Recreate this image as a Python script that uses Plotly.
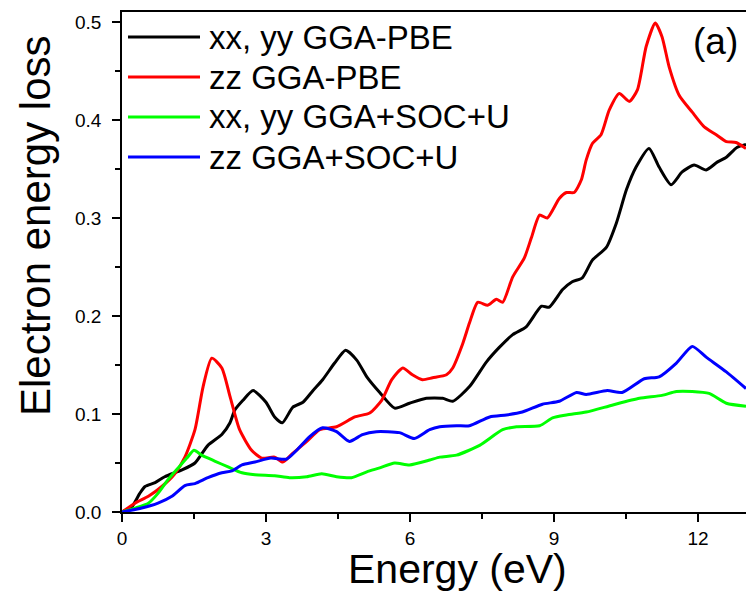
import plotly.graph_objects as go

# ---------------- data ----------------
black_x = [0, 0.2, 0.37, 0.48, 0.69, 0.89, 1.25, 1.52, 1.79, 2.08, 2.25, 2.35, 2.52, 2.73,
           3.0, 3.18, 3.34, 3.56, 3.77, 3.98, 4.18, 4.43, 4.66, 4.89, 5.10, 5.37, 5.68,
           5.99, 6.34, 6.68, 6.89, 7.24, 7.59, 7.86, 8.14, 8.42, 8.74, 8.90, 9.18, 9.38,
           9.59, 9.80, 10.09, 10.30, 10.51, 10.71, 10.98, 11.19, 11.44, 11.67, 11.92,
           12.17, 12.40, 12.59, 12.81, 13.0]
black_y = [0, 0.005, 0.019, 0.026, 0.030, 0.036, 0.043, 0.050, 0.068, 0.079, 0.091, 0.104,
           0.114, 0.124, 0.112, 0.097, 0.091, 0.107, 0.112, 0.124, 0.135, 0.152, 0.165,
           0.155, 0.138, 0.122, 0.106, 0.111, 0.116, 0.116, 0.113, 0.128, 0.153, 0.168,
           0.181, 0.189, 0.210, 0.209, 0.227, 0.235, 0.239, 0.257, 0.270, 0.295, 0.329,
           0.352, 0.371, 0.352, 0.334, 0.347, 0.354, 0.349, 0.357, 0.362, 0.372, 0.375]

red_x = [0, 0.27, 0.55, 0.83, 1.10, 1.31, 1.52, 1.69, 1.87, 2.08, 2.25, 2.45, 2.70, 2.91,
         3.18, 3.35, 3.56, 3.85, 4.12, 4.47, 4.85, 5.16, 5.41, 5.62, 5.85, 6.05, 6.26,
         6.47, 6.76, 6.89, 7.10, 7.24, 7.41, 7.62, 7.80, 7.93, 8.14, 8.38, 8.53, 8.70,
         8.86, 9.11, 9.26, 9.42, 9.57, 9.67, 9.80, 9.98, 10.15, 10.36, 10.57, 10.74,
         10.92, 11.11, 11.25, 11.40, 11.61, 11.88, 12.13, 12.38, 12.59, 12.79, 13.0]
red_y = [0, 0.009, 0.016, 0.026, 0.039, 0.056, 0.084, 0.128, 0.157, 0.147, 0.118, 0.084,
         0.063, 0.055, 0.056, 0.051, 0.060, 0.072, 0.084, 0.087, 0.097, 0.101, 0.114,
         0.135, 0.147, 0.140, 0.135, 0.137, 0.140, 0.147, 0.172, 0.193, 0.214, 0.211,
         0.217, 0.214, 0.240, 0.259, 0.280, 0.303, 0.300, 0.320, 0.326, 0.326, 0.339,
         0.359, 0.376, 0.385, 0.410, 0.427, 0.419, 0.431, 0.475, 0.499, 0.485, 0.454,
         0.425, 0.408, 0.393, 0.385, 0.378, 0.377, 0.371]

green_x = [0, 0.27, 0.55, 0.75, 0.96, 1.17, 1.35, 1.50, 1.66, 1.93, 2.21, 2.50, 2.77, 3.18,
           3.49, 3.85, 4.16, 4.47, 4.78, 5.10, 5.37, 5.68, 5.99, 6.41, 6.62, 6.97, 7.45,
           7.93, 8.22, 8.70, 8.97, 9.26, 9.67, 10.21, 10.78, 11.25, 11.55, 11.88, 12.23,
           12.59, 13.0]
green_y = [0, 0.004, 0.009, 0.019, 0.033, 0.045, 0.055, 0.063, 0.058, 0.052, 0.046, 0.040,
           0.038, 0.037, 0.035, 0.036, 0.039, 0.036, 0.035, 0.041, 0.045, 0.050, 0.048,
           0.053, 0.056, 0.058, 0.068, 0.084, 0.087, 0.088, 0.096, 0.099, 0.102, 0.109,
           0.116, 0.119, 0.123, 0.123, 0.121, 0.111, 0.108]

blue_x = [0, 0.41, 0.75, 1.04, 1.31, 1.52, 1.79, 2.08, 2.29, 2.50, 2.77, 3.10, 3.43, 3.64,
          3.91, 4.18, 4.47, 4.74, 5.01, 5.30, 5.78, 6.09, 6.41, 6.62, 6.97, 7.24, 7.66,
          8.01, 8.34, 8.76, 9.11, 9.47, 9.67, 10.11, 10.42, 10.88, 11.19, 11.55, 11.88,
          12.17, 12.59, 13.0]
blue_y = [0, 0.004, 0.009, 0.016, 0.027, 0.029, 0.035, 0.040, 0.042, 0.048, 0.051, 0.055,
          0.054, 0.063, 0.077, 0.086, 0.082, 0.072, 0.079, 0.082, 0.081, 0.075, 0.084,
          0.087, 0.088, 0.088, 0.097, 0.099, 0.102, 0.110, 0.113, 0.122, 0.120, 0.124,
          0.122, 0.136, 0.138, 0.152, 0.169, 0.158, 0.143, 0.126]

series_names = ["xx, yy GGA-PBE", "zz GGA-PBE", "xx, yy GGA+SOC+U", "zz GGA+SOC+U"]
series_colors = ["#000000", "#ff0000", "#00ff00", "#0000ff"]
x_ticks = [0, 3, 6, 9, 12]
y_ticks = [0.0, 0.1, 0.2, 0.3, 0.4, 0.5]

FONT = "Liberation Sans, Arial, sans-serif"

fig = go.Figure()
for (xs, ys), name, col in zip([(black_x, black_y), (red_x, red_y), (green_x, green_y), (blue_x, blue_y)],
                               series_names, series_colors):
    fig.add_trace(go.Scatter(x=xs, y=ys, mode="lines", name=name, showlegend=False,
                             line=dict(color=col, width=3, shape="spline", smoothing=0.6)))

# plot area geometry (pixels)
L, R, T, B = 122, 746, 12, 512
W, H = R - L, B - T

def px_x(p):
    return (p - L) / W

def px_y(p):
    return (B - p) / H

# custom legend (lines + text)
leg_rows = [37, 77, 117, 157]
for name, col, yy in zip(series_names, series_colors, leg_rows):
    fig.add_shape(type="line", xref="paper", yref="paper",
                  x0=px_x(128), x1=px_x(200), y0=px_y(yy), y1=px_y(yy),
                  line=dict(color=col, width=3.2))
    fig.add_annotation(text=name, xref="paper", yref="paper", x=px_x(207), y=px_y(yy),
                       xanchor="left", yanchor="middle", showarrow=False,
                       font=dict(family=FONT, size=33, color="black"))

fig.add_annotation(text="(a)", xref="paper", yref="paper", x=px_x(715), y=px_y(41),
                   xanchor="center", yanchor="middle", showarrow=False,
                   font=dict(family=FONT, size=37, color="black"))
fig.add_annotation(text="Energy (eV)", xref="paper", yref="paper", x=px_x(457), y=px_y(569),
                   xanchor="center", yanchor="middle", showarrow=False,
                   font=dict(family=FONT, size=41, color="black"))
fig.add_annotation(text="Electron energy loss", xref="paper", yref="paper", x=px_x(35), y=px_y(226),
                   xanchor="center", yanchor="middle", showarrow=False, textangle=-90,
                   font=dict(family=FONT, size=42, color="black"))

axis_common = dict(showgrid=False, zeroline=False, showline=True, linecolor="black", linewidth=1.5,
                   ticks="outside", ticklen=8, tickwidth=1.5, tickcolor="black",
                   tickfont=dict(family=FONT, size=19, color="black"))
fig.update_xaxes(range=[0, 13.0], tickvals=x_ticks, ticktext=[str(v) for v in x_ticks], mirror=True,
                 ticklabelstandoff=0,
                 minor=dict(dtick=1.5, tick0=0, ticks="outside", ticklen=5, tickwidth=1.5, tickcolor="black"),
                 **axis_common)
fig.update_yaxes(range=[0, 0.5102], tickvals=y_ticks, ticktext=["%.1f" % v for v in y_ticks],
                 ticklabelstandoff=7,
                 minor=dict(dtick=0.05, tick0=0, ticks="outside", ticklen=5, tickwidth=1.5, tickcolor="black"),
                 **axis_common)

fig.update_layout(width=746, height=594, autosize=False,
                  margin=dict(l=L, r=746 - R, t=T, b=594 - B, pad=0),
                  plot_bgcolor="white", paper_bgcolor="white", showlegend=False)

fig.write_html("out.html", config={"displayModeBar": False, "responsive": False},
               post_script="document.body.style.margin='0';document.body.style.overflow='hidden';")
